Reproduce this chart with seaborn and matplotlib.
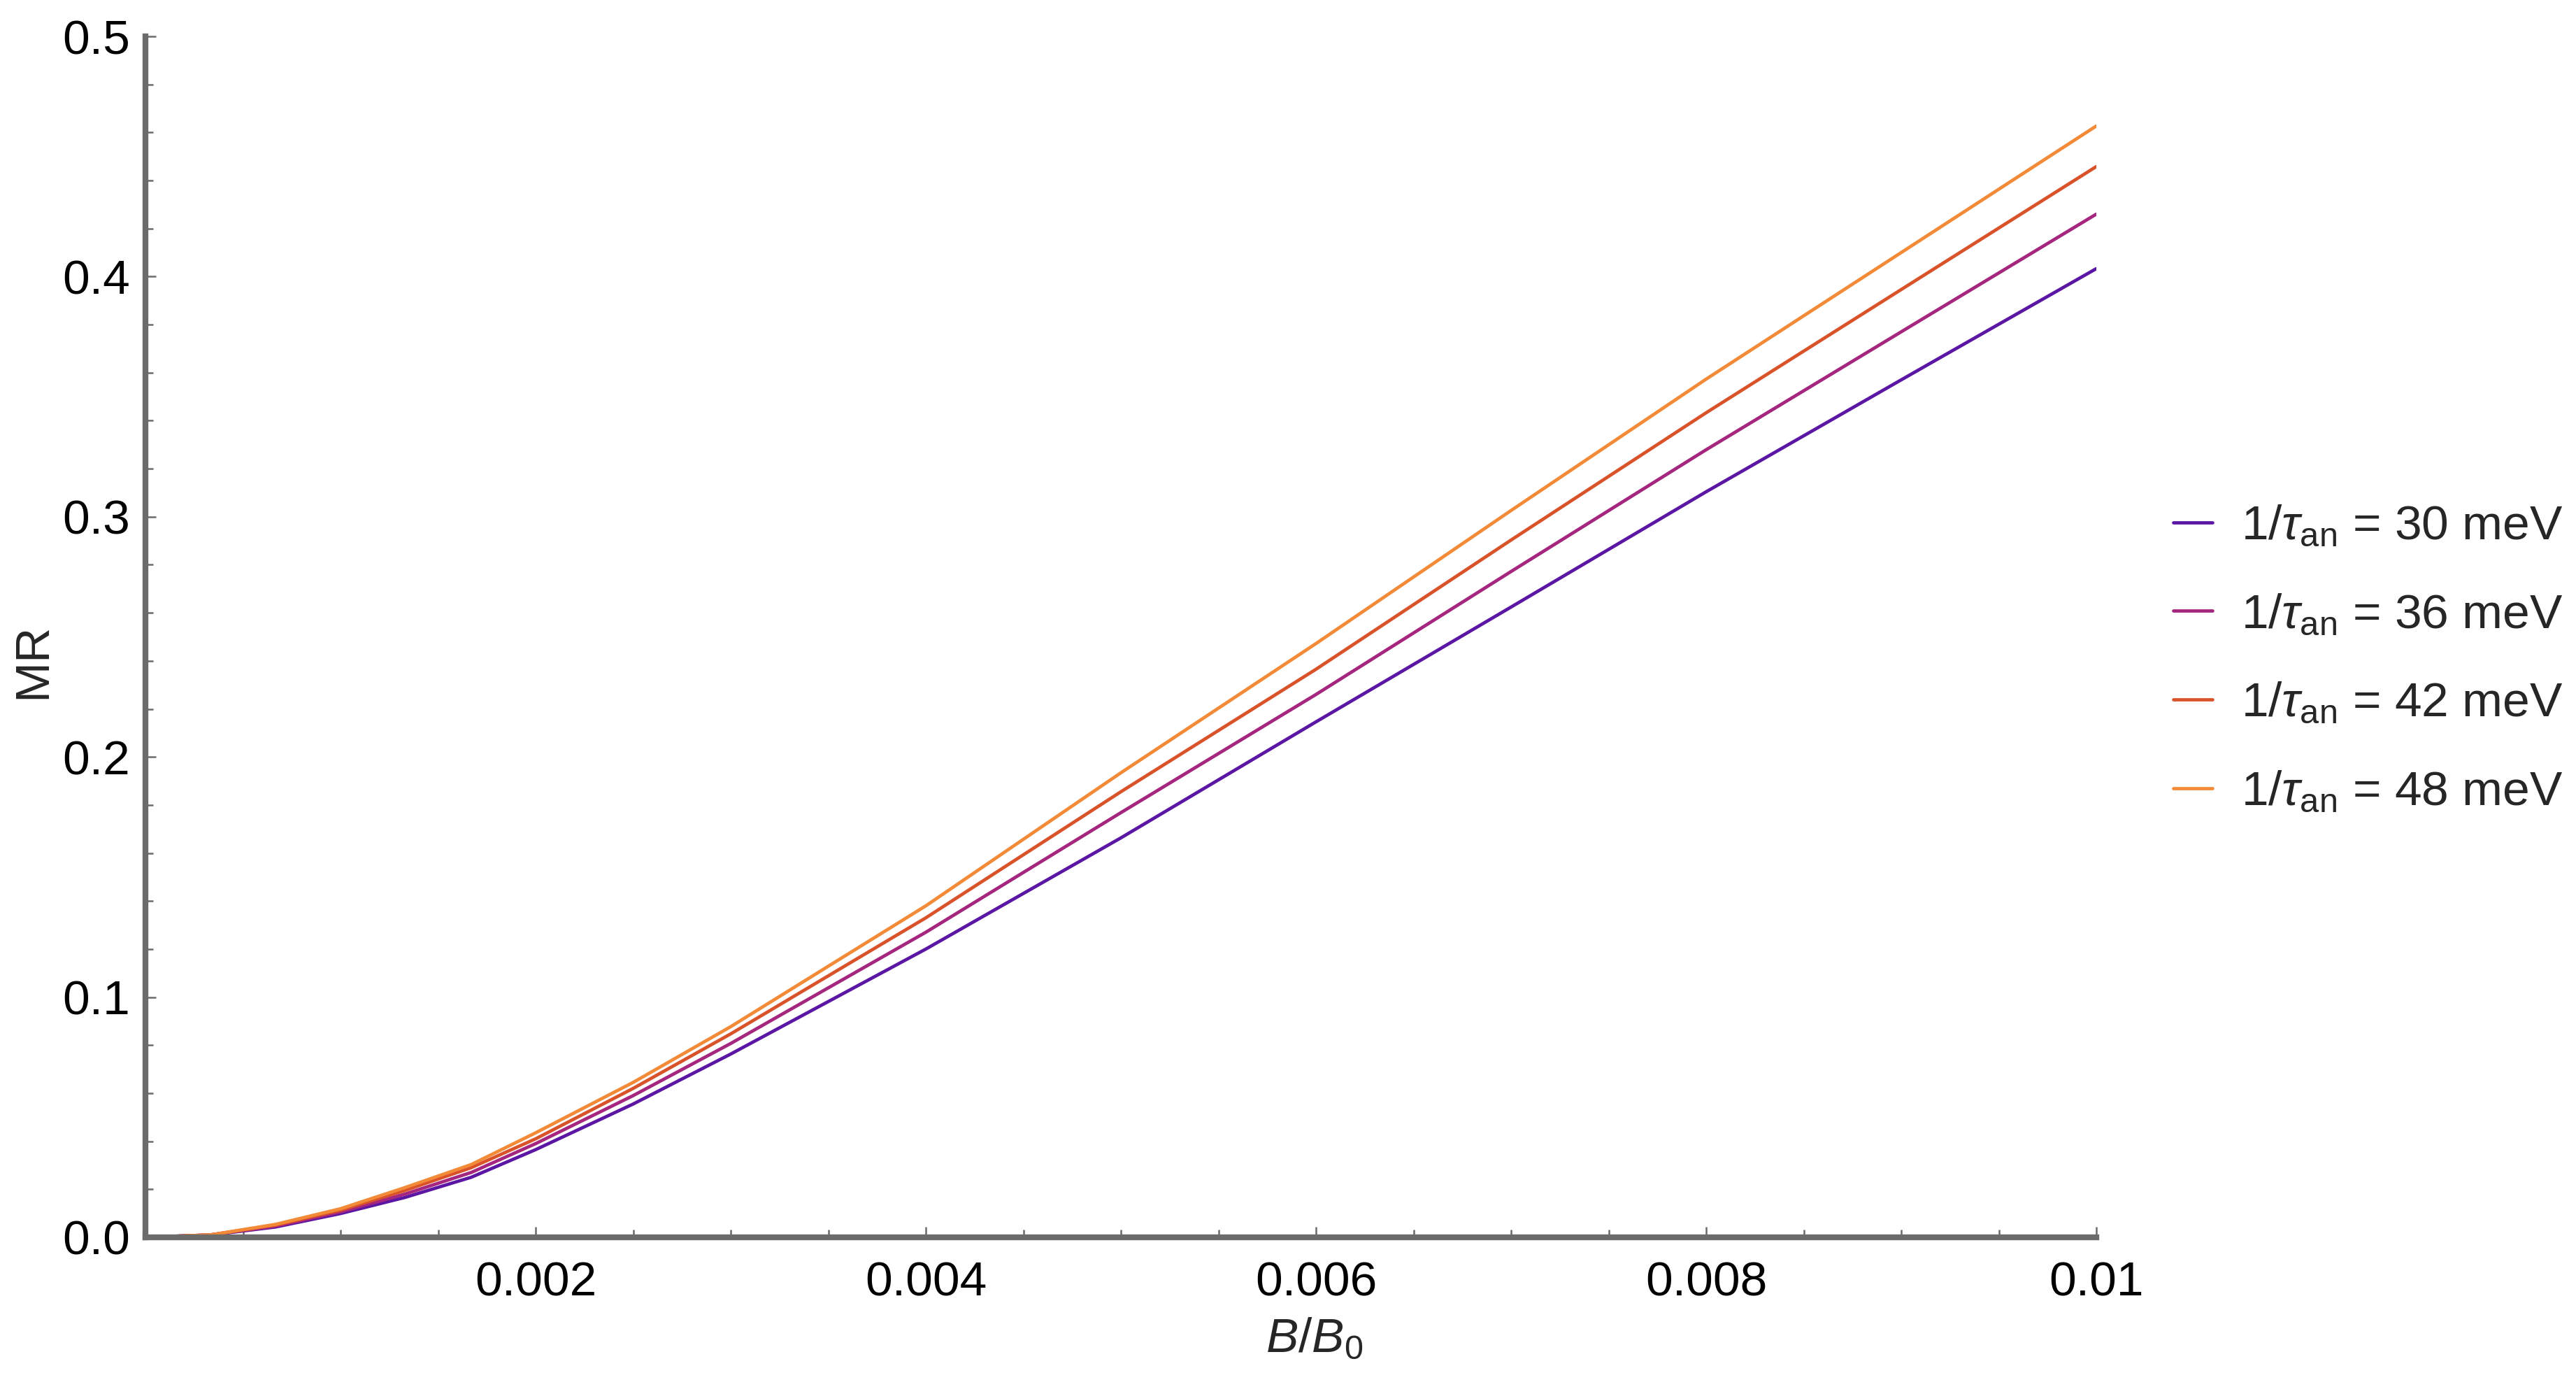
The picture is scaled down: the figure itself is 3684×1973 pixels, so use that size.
import numpy as np
import pandas as pd
import matplotlib
matplotlib.use("Agg")
import matplotlib.pyplot as plt
from matplotlib.ticker import MultipleLocator, FixedLocator, FormatStrFormatter
import seaborn as sns

# B/B0 sample points and MR
b_ratio = [0, 0.000333, 0.000667, 0.001, 0.00133, 0.00167, 0.002, 0.0025,
           0.003, 0.004, 0.005, 0.006, 0.007, 0.008, 0.009, 0.01]

mr_30 = [0, 0.001, 0.0043, 0.0099, 0.0166, 0.025, 0.0365, 0.0555,
         0.0763, 0.120, 0.1663, 0.2146, 0.2624, 0.3104, 0.357, 0.4033]
mr_36 = [0, 0.001, 0.0047, 0.0106, 0.018, 0.027, 0.039, 0.059,
         0.0807, 0.127, 0.1768, 0.226, 0.2772, 0.3279, 0.377, 0.426]
mr_42 = [0, 0.001, 0.0051, 0.0113, 0.0195, 0.029, 0.041, 0.062,
         0.0847, 0.133, 0.1855, 0.2365, 0.2903, 0.3433, 0.3946, 0.4458]
mr_48 = [0, 0.001, 0.0054, 0.0119, 0.0207, 0.0303, 0.0435, 0.0645,
         0.0877, 0.138, 0.1934, 0.2472, 0.3026, 0.3573, 0.410, 0.4627]

rates = [30, 36, 42, 48]
series = [mr_30, mr_36, mr_42, mr_48]
colors = ["#5b17a3", "#a5267f", "#d9532a", "#f28a38"]

labels = [rf"$1/\tau_{{\mathrm{{an}}}}$ = {r} meV" for r in rates]

frames = []
for lab, ys in zip(labels, series):
    frames.append(pd.DataFrame({"B": b_ratio, "MR": ys, "rate": lab}))
df = pd.concat(frames, ignore_index=True)

sns.set_theme(style="ticks")
plt.rcParams["font.family"] = ["Liberation Sans", "DejaVu Sans"]
plt.rcParams["mathtext.fontset"] = "custom"
plt.rcParams["mathtext.rm"] = "Liberation Sans"
plt.rcParams["mathtext.it"] = "Liberation Sans:italic"
plt.rcParams["mathtext.bf"] = "Liberation Sans:bold"

dpi = 200
fig = plt.figure(figsize=(3684 / dpi, 1973 / dpi), dpi=dpi)
ax = fig.add_axes([208 / 3684, 1 - 1769 / 1973, (2998 - 208) / 3684, (1769 - 52) / 1973])

sns.lineplot(data=df, x="B", y="MR", hue="rate", hue_order=labels,
             palette=colors, linewidth=1.7, ax=ax, legend=False,
             estimator=None, sort=True)

ax.set_xlim(0, 0.01)
ax.set_ylim(0, 0.5)

ax.xaxis.set_major_locator(FixedLocator([0.002, 0.004, 0.006, 0.008, 0.01]))
ax.xaxis.set_minor_locator(MultipleLocator(0.0005))
ax.xaxis.set_major_formatter(FormatStrFormatter("%g"))
ax.yaxis.set_major_locator(FixedLocator([0.0, 0.1, 0.2, 0.3, 0.4, 0.5]))
ax.yaxis.set_minor_locator(MultipleLocator(0.02))
ax.yaxis.set_major_formatter(FormatStrFormatter("%.1f"))

spine_col = "#6b6b6b"
for side in ["top", "right"]:
    ax.spines[side].set_visible(False)
for side in ["left", "bottom"]:
    ax.spines[side].set_color(spine_col)
    ax.spines[side].set_linewidth(3)

ax.tick_params(which="both", direction="in", color=spine_col, width=0.9)
ax.tick_params(which="major", length=5.5, labelsize=25, labelcolor="black")
ax.tick_params(which="minor", length=4)
ax.tick_params(axis="x", which="major", pad=12)
ax.tick_params(axis="y", which="major", pad=8)

ax.set_xlabel(r"$B/B_0$", fontsize=25, va="center")
ax.xaxis.set_label_coords((1880 - 208) / 2790, -146 / 1717)
ax.set_ylabel("MR", fontsize=25, va="center")
ax.yaxis.set_label_coords((47 - 208) / 2790, 0.48)

handles = ax.get_lines()[:4]
fig.legend(handles, labels, loc="center left", bbox_to_anchor=(3108 / 3684, 1 - 943 / 1973),
           frameon=False, fontsize=25, handlelength=0.8, handletextpad=0.6,
           labelspacing=0.9, borderpad=0, borderaxespad=0)

fig.savefig("out.png", dpi=dpi, facecolor="white")
